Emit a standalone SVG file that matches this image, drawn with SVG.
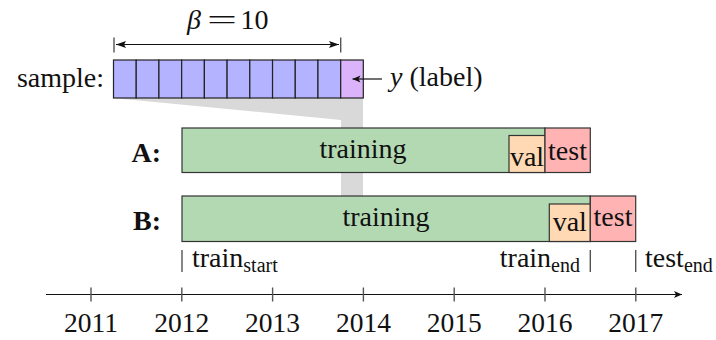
<svg xmlns="http://www.w3.org/2000/svg" width="716" height="340" viewBox="0 0 716 340">
<defs>
<style>
text{font-family:"Liberation Serif","Times New Roman",serif;font-size:28px;fill:#111}
.yr{font-size:27.5px}
.sub{font-size:20px}
.b{font-weight:bold}
.mid{text-anchor:middle}
.end{text-anchor:end}
.cell{fill:#b3b3ff;stroke:#222;stroke-width:1.2}
.ycell{fill:#dbb3fb;stroke:#222;stroke-width:1.2}
.train{fill:#b3d9b3;stroke:#333;stroke-width:1.2}
.val{fill:#ffd9b3;stroke:#333;stroke-width:1.2}
.test{fill:#ffb3b3;stroke:#333;stroke-width:1.2}
.ln{stroke:#111;stroke-width:1.2;fill:none}
.tick{stroke:#555;stroke-width:1.4}
</style>
<marker id="ah" viewBox="0 0 10 8" refX="10" refY="4" markerWidth="10" markerHeight="8" markerUnits="userSpaceOnUse" orient="auto-start-reverse">
<path d="M0,0.5 L10,4 L0,7.5 L2,4 Z" fill="#111"/>
</marker>
<marker id="sm" viewBox="0 0 8 8" refX="8" refY="4" markerWidth="8" markerHeight="8" markerUnits="userSpaceOnUse" orient="auto">
<path d="M0,0.5 L8,4 L0,7.5 L2,4 Z" fill="#111"/>
</marker>
</defs>
<g id="projection">
<polygon points="113,98 363,98 363,196 341,196 341,120" fill="#d9d9d9"/>
</g>
<g id="beta">
<text x="187" y="28.5" fill="#7f5a30" font-style="italic" font-size="30">β</text>
<text transform="translate(207,28.5) scale(1.9,1)" x="0" y="0">=</text>
<text x="240.5" y="28.5">10</text>
</g>
<g id="sample">
<text class="end" x="104" y="87">sample:</text>
<rect class="cell" x="113.5" y="60" width="22.72" height="38"/>
<rect class="cell" x="136.22" y="60" width="22.72" height="38"/>
<rect class="cell" x="158.94" y="60" width="22.72" height="38"/>
<rect class="cell" x="181.66" y="60" width="22.72" height="38"/>
<rect class="cell" x="204.38" y="60" width="22.72" height="38"/>
<rect class="cell" x="227.1" y="60" width="22.72" height="38"/>
<rect class="cell" x="249.82" y="60" width="22.72" height="38"/>
<rect class="cell" x="272.54" y="60" width="22.72" height="38"/>
<rect class="cell" x="295.26" y="60" width="22.72" height="38"/>
<rect class="cell" x="317.98" y="60" width="22.72" height="38"/>
<rect class="ycell" x="340.7" y="60" width="22.6" height="38"/>
</g>
<g id="label">
<text x="390" y="86"><tspan font-style="italic">y</tspan> (label)</text>
</g>
<g id="connectors">
<line class="ln" x1="116" y1="44.5" x2="339" y2="44.5" marker-start="url(#ah)" marker-end="url(#ah)"/>
<line class="tick" x1="114" y1="37.5" x2="114" y2="52.5"/>
<line class="tick" x1="340.7" y1="37.5" x2="340.7" y2="52.5"/>
<line class="ln" x1="382" y1="79" x2="352.5" y2="79" marker-end="url(#sm)"/>
<line class="ln" x1="46" y1="294.5" x2="682" y2="294.5" marker-end="url(#sm)"/>
</g>
<g id="rowA">
<text class="end b" x="161" y="162">A:</text>
<rect class="train" x="182" y="128" width="363" height="44.5"/>
<rect class="val" x="509" y="135.5" width="36" height="37"/>
<rect class="test" x="545" y="128" width="45.3" height="44.5"/>
<text class="mid" x="363" y="157.5">training</text>
<text class="mid" x="527" y="165.5">val</text>
<text class="mid" x="567.5" y="159.5">test</text>
</g>
<g id="rowB">
<text class="end b" x="161" y="230">B:</text>
<rect class="train" x="182" y="196" width="408.3" height="45.5"/>
<rect class="val" x="549.3" y="204" width="41" height="37.5"/>
<rect class="test" x="590.3" y="196" width="45.4" height="45.5"/>
<text class="mid" x="386" y="226">training</text>
<text class="mid" x="569.8" y="231">val</text>
<text class="mid" x="613" y="226">test</text>
</g>
<g id="markers">
<line class="tick" x1="182" y1="250" x2="182" y2="272"/>
<line class="tick" x1="590.3" y1="250" x2="590.3" y2="272"/>
<line class="tick" x1="635.7" y1="250" x2="635.7" y2="272"/>
<text x="192" y="267">train<tspan class="sub" dy="5">start</tspan></text>
<text class="end" x="580" y="267">train<tspan class="sub" dy="5">end</tspan></text>
<text x="645" y="267">test<tspan class="sub" dy="5">end</tspan></text>
</g>
<g id="axis">
<line class="tick" x1="91" y1="287.5" x2="91" y2="301.5"/>
<line class="tick" x1="181.8" y1="287.5" x2="181.8" y2="301.5"/>
<line class="tick" x1="272.6" y1="287.5" x2="272.6" y2="301.5"/>
<line class="tick" x1="363.4" y1="287.5" x2="363.4" y2="301.5"/>
<line class="tick" x1="454.2" y1="287.5" x2="454.2" y2="301.5"/>
<line class="tick" x1="545" y1="287.5" x2="545" y2="301.5"/>
<line class="tick" x1="635.8" y1="287.5" x2="635.8" y2="301.5"/>
<text class="mid yr" x="91" y="332">2011</text>
<text class="mid yr" x="181.8" y="332">2012</text>
<text class="mid yr" x="272.6" y="332">2013</text>
<text class="mid yr" x="363.4" y="332">2014</text>
<text class="mid yr" x="454.2" y="332">2015</text>
<text class="mid yr" x="545" y="332">2016</text>
<text class="mid yr" x="635.8" y="332">2017</text>
</g>
</svg>
